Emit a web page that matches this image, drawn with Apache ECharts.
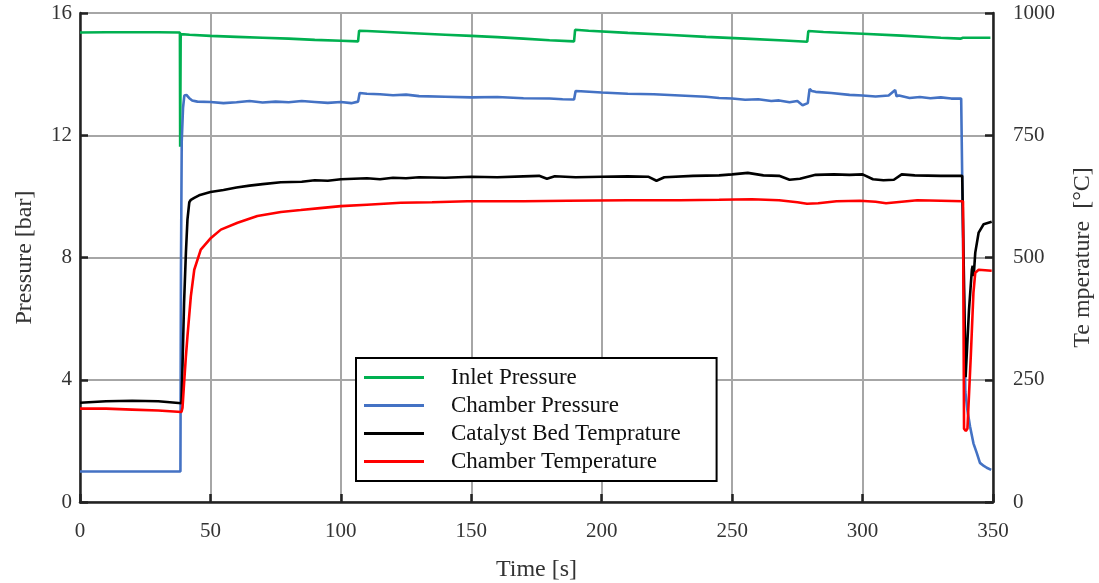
<!DOCTYPE html>
<html>
<head>
<meta charset="utf-8">
<script src="https://cdn.jsdelivr.net/npm/echarts@6/dist/echarts.min.js"></script>
<style>
  html, body { margin: 0; padding: 0; background: #fff; }
  #main { width: 1099px; height: 583px; }
</style>
</head>
<body>
<div id="main"></div>
<script>
// series names (legend order)
const names = ['Inlet Pressure', 'Chamber Pressure', 'Catalyst Bed Temprature', 'Chamber Temperature'];

// Inlet pressure [bar]
const inletT = [0, 10, 20, 30, 38.3, 38.4, 38.6, 42, 50, 60, 70, 80, 90, 100, 106.6, 107, 110, 120, 130, 140, 150, 160, 170, 180,
  189.4, 189.8, 195, 210, 225, 240, 255, 270, 278.8, 279.2, 285, 300, 315, 330, 337.5, 338.5, 345, 349];
const inletP = [15.36, 15.37, 15.37, 15.37, 15.36, 11.62, 15.31, 15.29, 15.25, 15.22, 15.19, 15.16, 15.12, 15.09, 15.07, 15.42, 15.41, 15.37, 15.33, 15.29, 15.25, 15.21, 15.16, 15.11,
  15.07, 15.45, 15.42, 15.35, 15.29, 15.22, 15.16, 15.1, 15.06, 15.41, 15.38, 15.32, 15.26, 15.19, 15.16, 15.19, 15.19, 15.19];

// Chamber pressure [bar]
const chamberT = [0, 20, 38.5, 38.7, 39.0, 39.5, 40.0, 40.8, 41.8, 43, 45, 50, 55, 60, 65, 70, 75, 80, 85, 90,
  95, 100, 104, 106.6, 107.2, 110, 115, 120, 125, 130, 140, 150, 160, 170, 180, 185, 189.4, 190, 192, 200,
  210, 220, 230, 240, 245, 250, 255, 260, 265, 268, 272, 275, 277, 279, 279.7, 280.5, 282, 288, 295, 300,
  305, 310, 312.5, 313, 314, 318, 322, 326, 330, 334, 337.8, 338.6, 339.4, 340.2, 341.2, 342.5, 343.8, 345, 346.5, 347.6, 349.3];
const chamberP = [1.0, 1.0, 1.0, 7.5, 11.8, 12.9, 13.3, 13.32, 13.22, 13.14, 13.1, 13.09, 13.05, 13.08, 13.12, 13.07, 13.1, 13.08, 13.12, 13.09,
  13.06, 13.09, 13.05, 13.1, 13.38, 13.36, 13.34, 13.31, 13.33, 13.28, 13.26, 13.24, 13.25, 13.21, 13.2, 13.18, 13.17, 13.45, 13.44, 13.4,
  13.36, 13.34, 13.3, 13.26, 13.22, 13.2, 13.16, 13.18, 13.12, 13.14, 13.08, 13.12, 12.98, 13.05, 13.52, 13.45, 13.42, 13.38, 13.32, 13.3,
  13.27, 13.3, 13.48, 13.28, 13.3, 13.22, 13.25, 13.21, 13.24, 13.2, 13.2, 8.0, 3.6, 3.0, 2.47, 1.92, 1.6, 1.28, 1.18, 1.12, 1.05];

// Catalyst bed temperature [°C]
const bedT = [0, 10, 20, 30, 38.9, 39.4, 39.9, 40.6, 41.2, 41.9, 42.5, 43.8, 46, 50, 55, 60, 65, 70, 77, 85,
  90, 95, 100, 105, 110, 115, 120, 125, 130, 140, 150, 160, 170, 176, 179, 182, 190, 200, 210, 218,
  221, 224, 235, 245, 250, 256, 262, 268, 272, 276, 282, 289, 295, 300, 304, 308, 312, 315, 320, 330,
  338.2, 339.5, 340.8, 341.9, 342.2, 342.6, 343.2, 344.5, 346.4, 349.5];
const bedV = [203, 206, 207, 206, 202, 300, 408, 510, 578, 613, 618, 622, 628, 634, 638, 643, 647, 650, 654, 655,
  658, 657, 660, 661, 662, 660, 663, 662, 664, 663, 665, 664, 666, 667, 661, 666, 664, 665, 666, 665,
  657, 664, 667, 668, 670, 673, 668, 667, 659, 661, 669, 670, 669, 670, 660, 658, 659, 670, 668, 667,
  667, 255, 393, 475, 483, 462, 510, 551, 568, 573];

// Chamber temperature [°C]
const ctT = [0, 10, 20, 30, 38.9, 39.3, 39.9, 40.6, 41.2, 42.5, 43.8, 46.3, 50.2, 54, 60.4, 68, 77, 84.6, 92, 100,
  110, 123, 135, 148.5, 170, 187, 210, 230, 245, 257.6, 268, 275, 278.7, 283, 290, 299, 305, 309, 315, 321,
  330, 338.5, 338.9, 339.6, 340.2, 341.5, 342.5, 343.2, 344.5, 349.5];
const ctV = [191, 191, 189, 187, 184, 193, 243, 298, 339, 421, 475, 516, 540, 557, 571, 585, 593, 597, 601, 605,
  608, 612, 613, 615, 615, 616, 617, 617, 618, 619, 617, 613, 610, 611, 615, 616, 614, 611, 614, 617,
  616, 615, 150, 145, 150, 300, 428, 469, 475, 473];

const colors = ['#00b050', '#4472c4', '#000000', '#ff0000'];
const font = 'Liberation Serif';

function pairs(ts, vs) {
  return ts.map((t, i) => [t, vs[i]]);
}

function makeLine(name, data, axis, color) {
  return {
    name: name,
    type: 'line',
    yAxisIndex: axis,
    data: data,
    showSymbol: false,
    symbol: 'none',
    lineStyle: { color: color, width: 2.6 },
    itemStyle: { color: color },
    emphasis: { disabled: true }
  };
}

const axisLine = { show: true, lineStyle: { color: '#222', width: 2.5 } };
const axisTick = { show: true, inside: true, length: 8, lineStyle: { color: '#222', width: 2.5 } };
const labelStyle = { fontFamily: font, fontSize: 21, color: '#333' };
const nameStyle = { fontFamily: font, fontSize: 24, color: '#333' };

let myChart = echarts.init(document.getElementById('main'));
let option = {
  animation: false,
  grid: { left: 80, right: 106, top: 13, bottom: 81, containLabel: false, outerBoundsMode: 'none' },
  legend: {
    orient: 'vertical',
    left: 356,
    top: 358,
    backgroundColor: '#fff',
    borderColor: '#000',
    borderWidth: 2,
    borderRadius: 0,
    padding: [8, 36, 8, 8],
    itemWidth: 60,
    itemHeight: 3,
    itemGap: 5,
    icon: 'rect',
    textStyle: { fontFamily: font, fontSize: 23, color: '#111', padding: [0, 0, 0, 22] },
    data: names
  },
  xAxis: {
    type: 'value',
    min: 0,
    max: 350,
    interval: 50,
    name: 'Time [s]',
    nameLocation: 'middle',
    nameGap: 56,
    nameTextStyle: nameStyle,
    axisLine: axisLine,
    axisTick: axisTick,
    axisLabel: Object.assign({ margin: 19 }, labelStyle),
    splitLine: { show: true, lineStyle: { color: '#a6a6a6', width: 2 } }
  },
  yAxis: [
    {
      type: 'value',
      min: 0,
      max: 16,
      interval: 4,
      name: 'Pressure [bar]',
      nameLocation: 'middle',
      nameGap: 43,
      nameTextStyle: nameStyle,
      axisLine: axisLine,
      axisTick: axisTick,
      axisLabel: Object.assign({ margin: 8 }, labelStyle),
      splitLine: { show: true, lineStyle: { color: '#a6a6a6', width: 2 } }
    },
    {
      type: 'value',
      min: 0,
      max: 1000,
      interval: 250,
      position: 'right',
      name: 'Te mperature  [°C]',
      nameLocation: 'middle',
      nameGap: 78,
      nameTextStyle: nameStyle,
      axisLine: axisLine,
      axisTick: axisTick,
      axisLabel: Object.assign({ margin: 20, formatter: v => String(v) }, labelStyle),
      splitLine: { show: false }
    }
  ],
  series: [
    makeLine(names[0], pairs(inletT, inletP), 0, colors[0]),
    makeLine(names[1], pairs(chamberT, chamberP), 0, colors[1]),
    makeLine(names[2], pairs(bedT, bedV), 1, colors[2]),
    makeLine(names[3], pairs(ctT, ctV), 1, colors[3])
  ]
};
myChart.setOption(option);
</script>
</body>
</html>
